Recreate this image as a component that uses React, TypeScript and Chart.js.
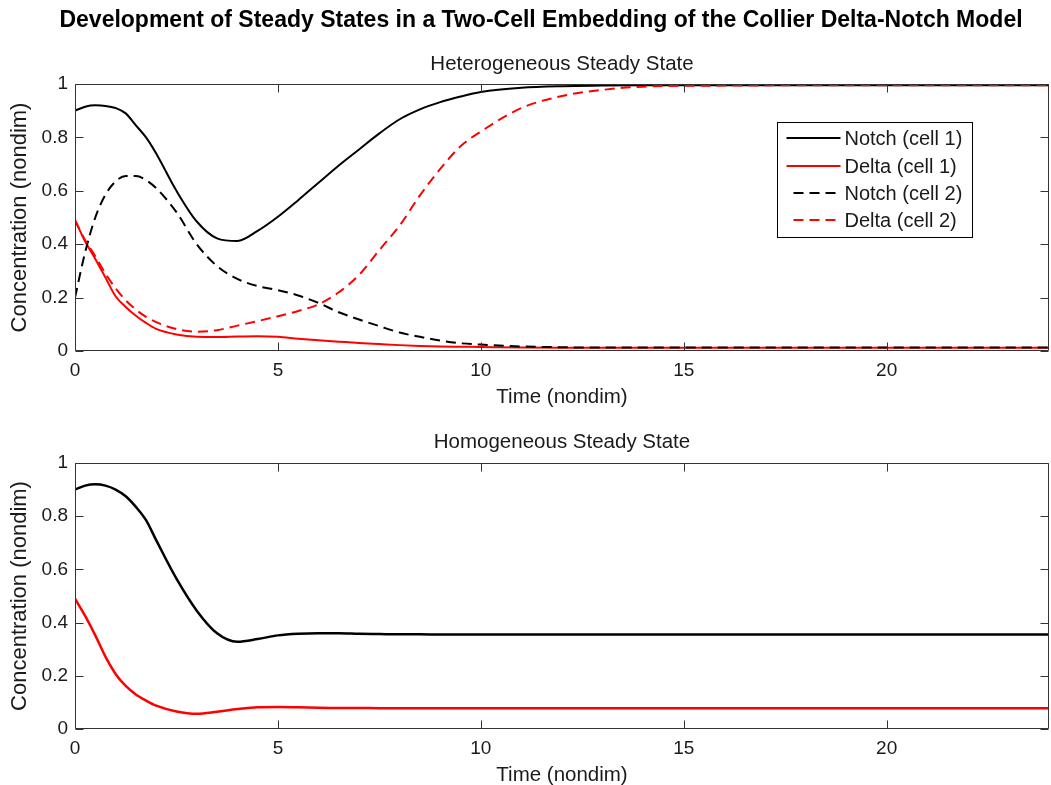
import React, { useEffect, useRef } from "react";
import { Chart, registerables } from "chart.js";

Chart.register(...registerables);

const MAIN_TITLE = "Development of Steady States in a Two-Cell Embedding of the Collier Delta-Notch Model";
const TOP_TITLE = "Heterogeneous Steady State";
const BOTTOM_TITLE = "Homogeneous Steady State";
const X_LABEL = "Time (nondim)";
const Y_LABEL = "Concentration (nondim)";
const X_TICKS = [0, 5, 10, 15, 20];
const Y_TICKS = [0, 0.2, 0.4, 0.6, 0.8, 1];
const X_MAX = 24;

const time = [0, 0.25, 0.5, 0.75, 1, 1.25, 1.5, 1.75, 2, 2.5, 3, 3.5, 4, 4.5, 5, 5.5, 6, 6.5, 7, 7.5, 8, 8.5, 9, 9.5, 10, 11, 12, 13, 14, 16, 18, 20, 22, 24];

// Heterogeneous steady state
const notchCell1 = [0.900, 0.915, 0.920, 0.918, 0.910, 0.890, 0.845, 0.800, 0.740, 0.600, 0.485, 0.422, 0.412, 0.450, 0.503, 0.565, 0.630, 0.695, 0.755, 0.815, 0.868, 0.905, 0.932, 0.953, 0.970, 0.986, 0.992, 0.994, 0.995, 0.995, 0.995, 0.995, 0.995, 0.995];
const deltaCell1 = [0.490, 0.410, 0.345, 0.275, 0.205, 0.165, 0.132, 0.105, 0.083, 0.062, 0.053, 0.052, 0.054, 0.055, 0.053, 0.046, 0.040, 0.035, 0.030, 0.026, 0.022, 0.019, 0.017, 0.016, 0.015, 0.013, 0.012, 0.012, 0.012, 0.012, 0.012, 0.012, 0.012, 0.012];
const notchCell2 = [0.200, 0.370, 0.500, 0.585, 0.635, 0.655, 0.655, 0.640, 0.610, 0.520, 0.400, 0.318, 0.270, 0.243, 0.228, 0.208, 0.180, 0.145, 0.118, 0.093, 0.069, 0.053, 0.039, 0.029, 0.024, 0.017, 0.014, 0.013, 0.013, 0.013, 0.013, 0.013, 0.013, 0.013];
const deltaCell2 = [0.490, 0.415, 0.355, 0.290, 0.235, 0.190, 0.155, 0.128, 0.108, 0.082, 0.072, 0.078, 0.095, 0.112, 0.130, 0.150, 0.175, 0.220, 0.285, 0.378, 0.470, 0.583, 0.682, 0.767, 0.822, 0.910, 0.955, 0.978, 0.990, 0.994, 0.995, 0.995, 0.995, 0.995];

// Homogeneous steady state
const notchHomog = [0.900, 0.915, 0.920, 0.915, 0.900, 0.875, 0.835, 0.785, 0.710, 0.565, 0.445, 0.360, 0.328, 0.338, 0.352, 0.358, 0.360, 0.360, 0.358, 0.357, 0.356, 0.356, 0.355, 0.355, 0.355, 0.355, 0.355, 0.355, 0.355, 0.355, 0.355, 0.355, 0.355, 0.355];
const deltaHomog = [0.490, 0.425, 0.352, 0.272, 0.207, 0.162, 0.130, 0.107, 0.088, 0.066, 0.057, 0.065, 0.075, 0.082, 0.083, 0.082, 0.080, 0.079, 0.079, 0.078, 0.078, 0.078, 0.078, 0.078, 0.078, 0.078, 0.078, 0.078, 0.078, 0.078, 0.078, 0.078, 0.078, 0.078];

const LEGEND_LABELS = ["Notch (cell 1)", "Delta (cell 1)", "Notch (cell 2)", "Delta (cell 2)"];

const FONT = "'Liberation Sans', Arial, Helvetica, sans-serif";
const TEXT = "#1a1a1a";
const AXIS = "#333333";
const DASH = [10, 6];

const toXY = (ys: number[]) => ys.map((y, i) => ({ x: time[i], y }));

const boxPlugin = {
  id: "mbox",
  afterDraw(chart: any) {
    const { ctx, chartArea: a, scales } = chart;
    const xs = scales.x;
    const ys = scales.y;
    const L = 8;
    const l = Math.round(a.left) + 0.5;
    const r = Math.round(a.right) - 0.5;
    const t = Math.round(a.top) + 0.5;
    const b = Math.round(a.bottom) - 0.5;
    ctx.save();
    ctx.strokeStyle = AXIS;
    ctx.lineWidth = 1;
    ctx.beginPath();
    ctx.moveTo(l, t);
    ctx.lineTo(r, t);
    ctx.lineTo(r, b);
    ctx.lineTo(l, b);
    ctx.closePath();
    xs.ticks.forEach((tk: any) => {
      const px = Math.round(xs.getPixelForValue(tk.value)) + 0.5;
      ctx.moveTo(px, b);
      ctx.lineTo(px, b - L);
      ctx.moveTo(px, t);
      ctx.lineTo(px, t + L);
    });
    ys.ticks.forEach((tk: any) => {
      const py = Math.round(ys.getPixelForValue(tk.value)) + 0.5;
      ctx.moveTo(l, py);
      ctx.lineTo(l + L, py);
      ctx.moveTo(r, py);
      ctx.lineTo(r - L, py);
    });
    ctx.stroke();
    ctx.restore();
  },
};

const insetLegendPlugin = {
  id: "insetLegend",
  afterDraw(chart: any, _args: any, opts: any) {
    if (!opts || !opts.display) return;
    const { ctx, chartArea: a } = chart;
    const w = 195;
    const h = 115;
    const x = Math.round(a.right - 272) + 0.5;
    const y = Math.round(a.top + 38) + 0.5;
    ctx.save();
    ctx.fillStyle = "#ffffff";
    ctx.fillRect(x, y, w, h);
    ctx.strokeStyle = "#000000";
    ctx.lineWidth = 1;
    ctx.strokeRect(x, y, w, h);
    const rows = [15, 43, 70, 97];
    ctx.font = `20px ${FONT}`;
    ctx.textBaseline = "middle";
    ctx.textAlign = "left";
    chart.data.datasets.forEach((ds: any, i: number) => {
      const ry = Math.round(y + rows[i]);
      ctx.beginPath();
      ctx.strokeStyle = ds.borderColor;
      ctx.lineWidth = 2;
      ctx.setLineDash(ds.borderDash || []);
      const dashed = ds.borderDash && ds.borderDash.length;
      ctx.moveTo(x + (dashed ? 16 : 9), ry);
      ctx.lineTo(x + 63, ry);
      ctx.stroke();
      ctx.setLineDash([]);
      ctx.fillStyle = TEXT;
      ctx.fillText(ds.label, x + 67, ry + 1);
    });
    ctx.restore();
  },
};

function makeScales(xAxisHeight: number, xTitlePadBottom: number) {
  return {
    x: {
      type: "linear",
      min: 0,
      max: X_MAX,
      afterBuildTicks: (s: any) => {
        s.ticks = X_TICKS.map((value) => ({ value }));
      },
      afterFit: (s: any) => {
        s.height = xAxisHeight;
      },
      grid: { display: false, drawTicks: false },
      border: { display: false },
      ticks: {
        padding: 8,
        color: TEXT,
        font: { family: FONT, size: 19 },
        callback: (v: any) => `${v}`,
      },
      title: {
        display: true,
        text: X_LABEL,
        color: TEXT,
        font: { family: FONT, size: 20.5, lineHeight: "22px" },
        padding: { top: 0, bottom: xTitlePadBottom },
      },
    },
    y: {
      type: "linear",
      min: 0,
      max: 1,
      afterBuildTicks: (s: any) => {
        s.ticks = Y_TICKS.map((value) => ({ value }));
      },
      afterFit: (s: any) => {
        s.width = 75;
      },
      grid: { display: false, drawTicks: false },
      border: { display: false },
      ticks: {
        padding: 7,
        color: TEXT,
        font: { family: FONT, size: 19 },
        callback: (v: any) => `${v}`,
      },
      title: {
        display: true,
        text: Y_LABEL,
        color: TEXT,
        font: { family: FONT, size: 22, lineHeight: "22px" },
        padding: { top: 9, bottom: 0 },
      },
    },
    spacer: {
      type: "linear",
      position: "right",
      display: true,
      min: 0,
      max: 1,
      afterFit: (s: any) => {
        s.width = 33;
      },
      grid: { display: false, drawTicks: false },
      border: { display: false },
      ticks: { display: false },
    },
  };
}

function lineDs(label: string, ys: number[], color: string, dashed: boolean, order: number, width: number) {
  return {
    label,
    data: toXY(ys),
    borderColor: color,
    backgroundColor: color,
    borderWidth: width,
    borderDash: dashed ? DASH : [],
    pointRadius: 0,
    fill: false,
    cubicInterpolationMode: "monotone",
    order,
  };
}

export default function App() {
  const topRef = useRef<HTMLCanvasElement | null>(null);
  const botRef = useRef<HTMLCanvasElement | null>(null);

  useEffect(() => {
    document.body.style.margin = "0";
    const topCanvas = topRef.current!;
    const botCanvas = botRef.current!;

    const topChart = new Chart(topCanvas, {
      type: "line",
      data: {
        datasets: [
          lineDs(LEGEND_LABELS[0], notchCell1, "#000000", false, 4, 2),
          lineDs(LEGEND_LABELS[1], deltaCell1, "#ff0000", false, 3, 2),
          lineDs(LEGEND_LABELS[2], notchCell2, "#000000", true, 2, 2),
          lineDs(LEGEND_LABELS[3], deltaCell2, "#ff0000", true, 1, 2),
        ] as any,
      },
      options: {
        responsive: false,
        animation: false,
        devicePixelRatio: 1,
        layout: { padding: 0 },
        scales: makeScales(59, 2) as any,
        plugins: {
          legend: { display: false },
          tooltip: { enabled: false },
          title: {
            display: true,
            text: MAIN_TITLE,
            color: "#000000",
            font: { family: FONT, size: 23, weight: "bold", lineHeight: "24px" },
            padding: { top: 9, bottom: 9 },
          },
          subtitle: {
            display: true,
            text: TOP_TITLE,
            fullSize: false,
            color: TEXT,
            font: { family: FONT, size: 20.5, lineHeight: "22px" },
            padding: { top: 11, bottom: 9 },
          },
          insetLegend: { display: true },
        } as any,
      },
      plugins: [boxPlugin, insetLegendPlugin],
    });

    const botChart = new Chart(botCanvas, {
      type: "line",
      data: {
        datasets: [
          lineDs("Notch", notchHomog, "#000000", false, 2, 2.5),
          lineDs("Delta", deltaHomog, "#ff0000", false, 1, 2.5),
        ] as any,
      },
      options: {
        responsive: false,
        animation: false,
        devicePixelRatio: 1,
        layout: { padding: 0 },
        scales: makeScales(56, -1) as any,
        plugins: {
          legend: { display: false },
          tooltip: { enabled: false },
          title: {
            display: true,
            text: BOTTOM_TITLE,
            fullSize: false,
            color: TEXT,
            font: { family: FONT, size: 20.5, weight: "normal", lineHeight: "22px" },
            padding: { top: 21, bottom: 10 },
          },
          insetLegend: { display: false },
        } as any,
      },
      plugins: [boxPlugin, insetLegendPlugin],
    });

    return () => {
      topChart.destroy();
      botChart.destroy();
    };
  }, []);

  return (
    <div style={{ position: "relative", width: 1051, height: 785, overflow: "hidden", background: "#ffffff" }}>
      <canvas ref={topRef} width={1082} height={410} style={{ position: "absolute", left: 0, top: 0, width: 1082, height: 410 }} />
      <canvas ref={botRef} width={1082} height={375} style={{ position: "absolute", left: 0, top: 410, width: 1082, height: 375 }} />
    </div>
  );
}
